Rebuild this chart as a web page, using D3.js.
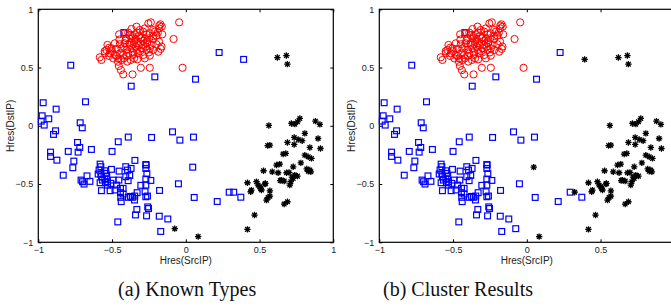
<!DOCTYPE html>
<html>
<head>
<meta charset="utf-8">
<script src="https://cdn.jsdelivr.net/npm/d3@7"></script>
<style>
  body { margin: 0; background: #fff; }
  .tick text { font-family: Arial, "Liberation Sans", sans-serif; font-size: 9px; fill: #222; }
  .axis-label { font-family: Arial, "Liberation Sans", sans-serif; font-size: 10px; fill: #222; }
  .caption { font-family: "Liberation Serif", "Times New Roman", serif; font-size: 20px; fill: #111; }
</style>
</head>
<body>
<div id="chart"></div>
<script>
// known type: web/flash crowd (red circles)
var redPts = [
  [-0.254,0.879],[-0.237,0.888],[-0.172,0.871],[-0.163,0.851],[-0.334,0.851],[-0.045,0.888],
  [-0.368,0.831],[-0.312,0.822],[-0.278,0.836],[-0.221,0.822],[-0.181,0.836],[-0.21,0.808],[-0.289,0.808],
  [-0.452,0.785],[-0.413,0.794],[-0.38,0.779],[-0.346,0.785],[-0.316,0.774],[-0.266,0.785],[-0.244,0.794],
  [-0.16,0.785],[-0.199,0.774],[-0.402,0.751],[-0.368,0.751],[-0.339,0.745],[-0.307,0.751],[-0.278,0.745],
  [-0.248,0.751],[-0.221,0.745],[-0.181,0.722],[-0.083,0.745],[-0.531,0.694],[-0.481,0.708],[-0.447,0.70],
  [-0.413,0.708],[-0.38,0.694],[-0.353,0.70],[-0.323,0.708],[-0.289,0.694],[-0.262,0.708],[-0.232,0.694],
  [-0.199,0.70],[-0.165,0.68],[-0.538,0.65],[-0.504,0.665],[-0.47,0.66],[-0.436,0.665],[-0.402,0.651],
  [-0.368,0.665],[-0.334,0.651],[-0.30,0.665],[-0.266,0.651],[-0.244,0.665],[-0.221,0.651],[-0.187,0.636],
  [-0.549,0.622],[-0.515,0.622],[-0.481,0.608],[-0.447,0.622],[-0.424,0.608],[-0.39,0.622],[-0.357,0.608],
  [-0.323,0.622],[-0.289,0.608],[-0.244,0.602],[-0.583,0.588],[-0.572,0.565],[-0.492,0.579],[-0.458,0.579],
  [-0.436,0.565],[-0.397,0.551],[-0.373,0.565],[-0.33,0.57],[-0.278,0.579],[-0.454,0.513],[-0.44,0.478],
  [-0.305,0.498],[-0.244,0.498],[-0.022,0.498],[-0.424,0.441],[-0.361,0.441],
  [-0.41,0.73],[-0.35,0.72],[-0.32,0.69],[-0.29,0.73],[-0.26,0.72],[-0.38,0.71],[-0.34,0.68],[-0.31,0.64],
  [-0.42,0.68],[-0.36,0.63],[-0.27,0.68],[-0.25,0.63],[-0.30,0.76],[-0.33,0.80],[-0.39,0.80],[-0.36,0.77],
  [-0.45,0.74],[-0.50,0.64],[-0.47,0.60],[-0.42,0.58],[-0.35,0.58],[-0.40,0.60],[-0.22,0.77],[-0.19,0.80],
  [-0.18,0.86],[-0.17,0.66],[-0.52,0.60],[-0.55,0.64],[-0.52,0.67],[-0.46,0.55]
];

// known type: scan (blue squares)
var bluePts = [
  [0.226,0.629],[-0.78,0.52],[-0.21,0.42],[0.066,0.40],[-0.37,0.34],[-0.42,0.80],
  [-0.967,0.198],[-0.879,0.143],[-0.68,0.206],[-0.974,0.086],[-0.929,0.06],[-0.98,0.04],[-0.96,0.006],
  [-0.716,0.026],[-0.702,-0.017],[-0.883,-0.043],[-0.897,-0.074],[-0.734,-0.143],[-0.719,-0.186],
  [-0.73,-0.226],[-0.64,-0.203],[-0.797,-0.22],[-0.917,-0.226],[-0.917,-0.263],[-0.874,-0.295],
  [-0.759,-0.303],[-0.766,-0.36],[-0.831,-0.424],[-0.50,-0.22],[-0.458,-0.137],[-0.39,-0.097],
  [-0.232,-0.10],[-0.09,-0.052],[-0.04,-0.123],[0.052,-0.097],[-0.345,-0.297],[-0.271,-0.332],
  [-0.05,-0.498],[-0.178,-0.555],[0.057,-0.615],[0.213,-0.65],[0.294,-0.57],[0.373,-0.613],
  [-0.461,-0.825],[-0.17,-0.907],[-0.122,-0.80],[-0.18,-0.776],[-0.266,-0.773],[-0.341,-0.765],
  [-0.332,-0.718],[-0.258,-0.696],[-0.253,-0.71],
  [-0.67,-0.43],[-0.71,-0.466],[-0.65,-0.477],[-0.69,-0.50],[-0.70,-0.48],
  [-0.581,-0.329],[-0.576,-0.351],[-0.588,-0.38],[-0.594,-0.414],[-0.576,-0.414],[-0.572,-0.437],
  [-0.565,-0.466],[-0.581,-0.489],[-0.549,-0.386],[-0.542,-0.409],[-0.536,-0.431],[-0.549,-0.454],
  [-0.545,-0.489],[-0.531,-0.48],[-0.531,-0.509],[-0.572,-0.557],[-0.513,-0.557],[-0.504,-0.374],
  [-0.493,-0.466],[-0.508,-0.494],[-0.452,-0.389],[-0.454,-0.466],[-0.407,-0.351],[-0.395,-0.38],
  [-0.371,-0.366],[-0.38,-0.426],[-0.407,-0.437],[-0.391,-0.471],[-0.443,-0.537],[-0.443,-0.574],
  [-0.441,-0.614],[-0.438,-0.651],[-0.425,-0.586],[-0.375,-0.606],[-0.362,-0.614],[-0.348,-0.637],
  [-0.346,-0.603],[-0.33,-0.574],[-0.269,-0.337],[-0.271,-0.366],[-0.264,-0.411],[-0.271,-0.457],
  [-0.271,-0.509],[-0.276,-0.566],[-0.271,-0.609],[-0.237,-0.469],[-0.305,-0.511],[-0.26,-0.603],
  [-0.389,-0.614],[-0.48,-0.551],[-0.47,-0.509],[-0.425,-0.537]
];

// known type: other (black stars)
var blackPts = [
  [0.621,0.586],[0.682,0.603],[0.689,0.529],[0.084,-0.951],[0.418,-0.889],[0.466,-0.766],
  [0.563,0.003],[0.716,0.02],[0.739,0.014],[0.757,0.034],[0.773,0.063],[0.879,0.04],[0.909,0.012],
  [0.807,-0.065],[0.735,-0.10],[0.762,-0.117],[0.789,-0.128],[0.689,-0.143],[0.735,-0.16],[0.57,-0.166],
  [0.555,-0.17],[0.897,-0.109],[0.913,-0.195],[0.841,-0.186],[0.66,-0.243],[0.678,-0.237],[0.807,-0.252],
  [0.83,-0.266],[0.852,-0.28],[0.78,-0.318],[0.728,-0.352],[0.615,-0.337],[0.637,-0.329],[0.841,-0.38],
  [0.848,-0.395],[0.527,-0.386],[0.586,-0.395],[0.626,-0.403],[0.683,-0.403],[0.739,-0.423],[0.757,-0.432],
  [0.728,-0.452],[0.649,-0.466],[0.667,-0.475],[0.712,-0.48],[0.705,-0.509],[0.479,-0.48],[0.49,-0.509],
  [0.508,-0.538],[0.54,-0.495],[0.445,-0.552],[0.57,-0.558],[0.558,-0.615],[0.547,-0.638],[0.57,-0.604],
  [0.667,-0.672],[0.689,-0.652],[0.418,-0.489],[0.44,-0.566],[0.502,-0.523],[0.513,-0.551],[0.536,-0.50],
  [0.83,-0.39],[0.82,-0.37],[0.70,-0.40],[0.72,-0.44],[0.64,-0.47]
];

// points whose cluster differs from their known type
var scanClusteredOther = [[0.392,0.57],[0.047,-0.355],[0.325,-0.57]];
var otherClusteredScan = [[-0.075,-0.883]];

var tickVals = [-1, -0.5, 0, 0.5, 1];
var xLabel = "Hres(SrcIP)", yLabel = "Hres(DstIP)";
var captions = ["(a) Known Types", "(b) Cluster Results"];

var width = 671, height = 306;
var pw = 295, ph = 233;

var svg = d3.select("#chart").append("svg")
    .attr("width", width)
    .attr("height", height);

var x = d3.scaleLinear().domain([-1, 1]).range([0, pw]);
var y = d3.scaleLinear().domain([-1, 1]).range([ph, 0]);
var fmt = d3.format("~g");

function starPath(r) {
    var d = r * 0.72;
    return "M" + (-r) + ",0L" + r + ",0M0," + (-r) + "L0," + r +
        "M" + (-d) + "," + (-d) + "L" + d + "," + d + "M" + (-d) + "," + d + "L" + d + "," + (-d);
}

function drawPanel(left, caption, red, blue, black, captionX) {
    var g = svg.append("g").attr("transform", "translate(" + left + ",9.3)");

    // the right panel runs past the page edge, so its last x label is not shown
    var xTicks = left + pw > width ? tickVals.slice(0, -1) : tickVals;

    g.append("g").attr("transform", "translate(0," + ph + ")")
        .call(d3.axisBottom(x).tickValues(xTicks).tickFormat(fmt).tickSizeInner(-3).tickSizeOuter(0).tickPadding(4));
    g.append("g")
        .call(d3.axisTop(x).tickValues(xTicks).tickFormat("").tickSizeInner(-3).tickSizeOuter(0));
    g.append("g")
        .call(d3.axisLeft(y).tickValues(tickVals).tickFormat(fmt).tickSizeInner(-3).tickSizeOuter(0).tickPadding(5));
    g.append("g").attr("transform", "translate(" + pw + ",0)")
        .call(d3.axisRight(y).tickValues(tickVals).tickFormat("").tickSizeInner(-3).tickSizeOuter(0));
    g.selectAll(".domain").remove();
    g.selectAll(".tick line").attr("stroke", "#000");

    g.append("rect")
        .attr("width", pw).attr("height", ph)
        .attr("fill", "none").attr("stroke", "#000").attr("stroke-width", 1.2);

    g.selectAll(".sq").data(blue).enter().append("rect")
        .attr("class", "sq")
        .attr("x", function(d) { return x(d[0]) - 2.9; })
        .attr("y", function(d) { return y(d[1]) - 2.9; })
        .attr("width", 5.8).attr("height", 5.8)
        .attr("fill", "none").attr("stroke", "#0000ff").attr("stroke-width", 1.2);

    g.selectAll(".st").data(black).enter().append("path")
        .attr("class", "st")
        .attr("transform", function(d) { return "translate(" + x(d[0]) + "," + y(d[1]) + ")"; })
        .attr("d", starPath(3.2))
        .attr("fill", "none").attr("stroke", "#000").attr("stroke-width", 1.3);

    g.selectAll(".ci").data(red).enter().append("circle")
        .attr("class", "ci")
        .attr("cx", function(d) { return x(d[0]); })
        .attr("cy", function(d) { return y(d[1]); })
        .attr("r", 3.6)
        .attr("fill", "none").attr("stroke", "#ff0000").attr("stroke-width", 1);

    g.append("text").attr("class", "axis-label")
        .attr("x", pw / 2).attr("y", ph + 22)
        .attr("text-anchor", "middle")
        .text(xLabel);

    g.append("text").attr("class", "axis-label")
        .attr("transform", "translate(-24," + (ph / 2) + ")rotate(-90)")
        .attr("text-anchor", "middle")
        .text(yLabel);

    svg.append("text").attr("class", "caption")
        .attr("x", captionX).attr("y", 296)
        .text(caption);
}

drawPanel(38.3, captions[0], redPts, bluePts.concat(scanClusteredOther), blackPts.concat(otherClusteredScan), 118);
drawPanel(379.3, captions[1], redPts, bluePts.concat(otherClusteredScan), blackPts.concat(scanClusteredOther), 383);
</script>
</body>
</html>
